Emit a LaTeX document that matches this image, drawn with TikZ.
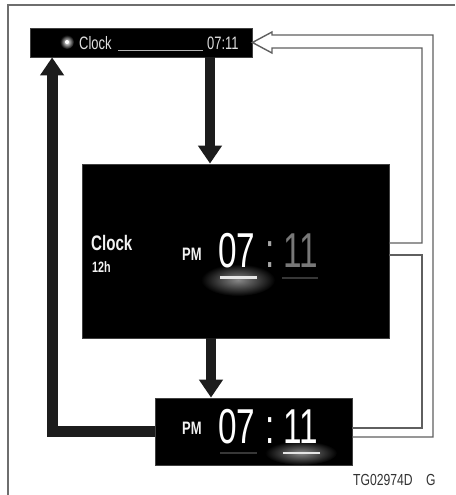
\documentclass[tikz,border=0pt]{standalone}
\usepackage{fontspec}
\setmainfont{Liberation Sans}
\newfontfamily\dispfont[FakeStretch=0.72]{Liberation Sans}
\newfontfamily\thinfont[FakeStretch=0.68]{Liberation Sans}
\newfontfamily\codefont[FakeStretch=0.76]{Liberation Sans}
\usetikzlibrary{arrows.meta}

\definecolor{framegray}{RGB}{110,110,110}
\definecolor{pipegray}{RGB}{95,95,95}
\definecolor{arrowblack}{RGB}{28,28,28}
\definecolor{dimdigit}{RGB}{120,120,120}
\definecolor{glowgray}{RGB}{135,135,135}
\definecolor{darkline}{RGB}{55,55,55}
\definecolor{labelgray}{RGB}{50,50,50}

\begin{document}
\begin{tikzpicture}[x=1pt,y=-1pt,line join=miter,
    screen/.style={fill=black,draw=black!75,line width=0.8pt,inner sep=0pt},
    fatarrow/.style={draw=arrowblack,line width=10pt,-{Triangle[length=18pt,width=23pt]}},
    pipe/.style={draw=pipegray,line width=1.4pt},
    txt/.style={inner sep=0pt,anchor=base west}]
        \useasboundingbox (0,0) rectangle (455,495);

        % frame
        \draw[framegray,line width=1.5pt] (8,495) -- (8,5) -- (455,5);

        % screens
        \node[screen,minimum width=222pt,minimum height=29pt] (topbar) at (141,42.5) {};
        \node[screen,minimum width=307pt,minimum height=174pt] (main) at (235.5,251) {};
        \node[screen,minimum width=197pt,minimum height=67pt] (small) at (253.5,431.5) {};

        % top bar
        \shade[inner color=white,outer color=black] (67,42) circle (7);
        \fill[white] (67,42) circle (2);
        \node[txt,text=gray!25,font=\dispfont\fontsize{18}{18}\selectfont] (barname) at (79,50) {Clock};
        \draw[gray!60,line width=1.2pt] (118,50.5) -- (203,50.5);
        \node[txt,text=gray!25,font=\dispfont\fontsize{18}{18}\selectfont] (bartime) at (207,50) {07:11};

        % main screen
        \node[txt,text=gray!10,font=\dispfont\bfseries\fontsize{21}{21}\selectfont] (mainname) at (91,250) {Clock};
        \node[txt,text=gray!10,font=\dispfont\bfseries\fontsize{15}{15}\selectfont] (mainmode) at (92,272) {12h};
        \node[txt,text=gray!10,font=\dispfont\bfseries\fontsize{18}{18}\selectfont] (mainpm) at (182,260) {PM};
        \shade[inner color=glowgray,outer color=black] (238,280) ellipse (37 and 16);
        \node[txt,text=white,font=\thinfont\fontsize{49}{49}\selectfont] (mainhour) at (218,267) {07};
        \node[txt,text=gray!70,font=\thinfont\fontsize{49}{49}\selectfont] (maincolon) at (265,267) {:};
        \node[txt,text=dimdigit,font=\thinfont\fontsize{49}{49}\selectfont] (mainmin) at (283,267) {11};
        \draw[gray!20,line width=2.5pt] (220,277.5) -- (257,277.5);
        \draw[darkline,line width=1.5pt] (282,278) -- (318,278);

        % small screen
        \node[txt,text=gray!10,font=\dispfont\bfseries\fontsize{18}{18}\selectfont] (smallpm) at (182,434) {PM};
        \shade[inner color=glowgray,outer color=black] (301,453) ellipse (36 and 12);
        \node[txt,text=white,font=\thinfont\fontsize{49}{49}\selectfont] (smallhour) at (218,443) {07};
        \node[txt,text=white,font=\thinfont\fontsize{49}{49}\selectfont] (smallcolon) at (265,443) {:};
        \node[txt,text=white,font=\thinfont\fontsize{49}{49}\selectfont] (smallmin) at (283,443) {11};
        \draw[darkline,line width=1.5pt] (220,453) -- (257,453);
        \draw[gray!20,line width=2.5pt] (283,453) -- (320,453);

        % solid arrows
        \coordinate (dropa) at ([xshift=69pt]topbar.south);
        \coordinate (dropb) at ([xshift=-24.5pt]main.south);
        \coordinate (lefttop) at ([xshift=22.5pt]topbar.south west);
        \draw[fatarrow] (dropa) -- (dropa |- main.north);
        \draw[fatarrow] (dropb) -- (dropb |- small.north);
        \draw[fatarrow,line width=11pt] (small.west) -| (lefttop);

        % hollow return arrow
        \coordinate (pa) at ([yshift=8pt]main.east);
        \coordinate (pb) at ([yshift=-4pt]main.east);
        \coordinate (qa) at ([yshift=3.5pt]small.east);
        \coordinate (qb) at ([yshift=-5.5pt]small.east);
        \draw[pipe] (pa) -| (422,48) -- (272,48) -- (272,53) -- (topbar.east)
            -- (272,32) -- (272,35) -- (433,35) |- (qb);
        \draw[pipe] (pb) -| (422,428) -- (qa);

        \node[txt,text=labelgray,font=\codefont\fontsize{16}{16}\selectfont] (code) at (353,485) {TG02974D};
        \node[txt,text=labelgray,font=\codefont\fontsize{16}{16}\selectfont] (rev) at (426,485) {G};
    \end{tikzpicture}
\end{document}
